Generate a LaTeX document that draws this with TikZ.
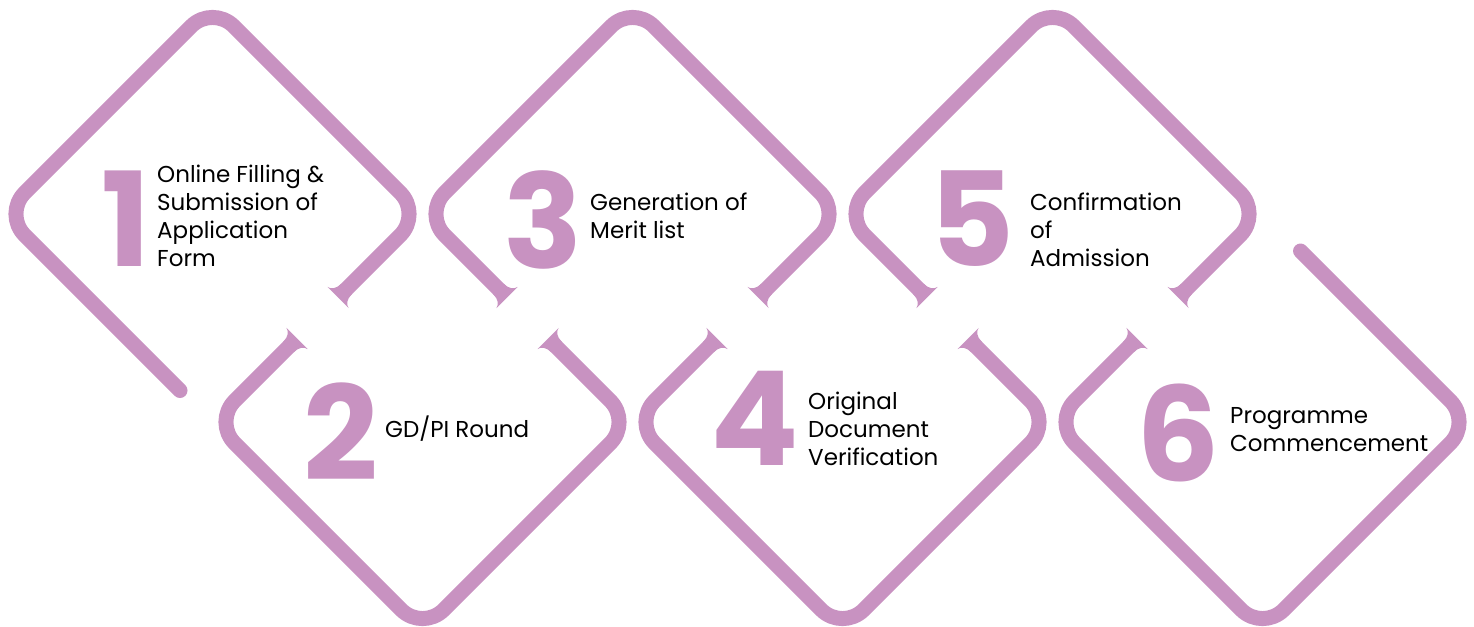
\documentclass[tikz,border=0pt]{standalone}
\usepackage{fontspec}
\setmainfont{Poppins}
\definecolor{ringc}{RGB}{200,146,193}
\tikzset{
  ring/.style={draw=ringc, line width=15pt, rounded corners=30pt, line cap=round, line join=round},
  num/.style={text=ringc, font=\fontsize{131}{131}\selectfont\bfseries, inner sep=0pt, anchor=base},
  lab/.style={text=black, font=\fontsize{23}{28}\selectfont, align=left, anchor=base west, inner sep=0pt}
}
\newcommand{\flareend}[2]{\fill[ringc, shift={#1}, rotate=#2] (-12,7.5) .. controls (-4,7.5) and (-1,11) .. (0,15) -- (0,-15) .. controls (-1,-11) and (-4,-7.5) .. (-12,-7.5) -- cycle;}
\begin{document}
\begin{tikzpicture}[x=1pt, y=-1pt]
\useasboundingbox (0,0) rectangle (1474,626);
% diamond 1
\draw[ring] (343.7,291.8) -- (421.5,214) -- (212.5,5) -- (3.5,214) -- (180,390.5);
\flareend{(338,297.5)}{225}
% diamond 2
\draw[ring] (291.3,344.2) -- (213.5,422) -- (422.5,631) -- (631.5,422) -- (553.7,344.2);
\flareend{(297,338.5)}{45}
\flareend{(548,338.5)}{135}
% diamond 3
\draw[ring] (763.7,291.8) -- (841.5,214) -- (632.5,5) -- (423.5,214) -- (501.3,291.8);
\flareend{(758,297.5)}{225}
\flareend{(507,297.5)}{-45}
% diamond 4
\draw[ring] (711.3,344.2) -- (633.5,422) -- (842.5,631) -- (1051.5,422) -- (973.7,344.2);
\flareend{(717,338.5)}{45}
\flareend{(968,338.5)}{135}
% diamond 5
\draw[ring] (1183.7,291.8) -- (1261.5,214) -- (1052.5,5) -- (843.5,214) -- (921.3,291.8);
\flareend{(1178,297.5)}{225}
\flareend{(927,297.5)}{-45}
% diamond 6
\draw[ring] (1131.3,344.2) -- (1053.5,422) -- (1262.5,631) -- (1471.5,422) -- (1300.5,251);
\flareend{(1137,338.5)}{45}
% numbers
\node[num] (n1) at (126,266) {1};
\node[num] (n2) at (341,480) {2};
\node[num] (n3) at (543,268) {3};
\node[num] (n4) at (755,465) {4};
\node[num] (n5) at (972,266) {5};
\node[num] (n6) at (1178,481) {6};
% labels (anchor at baseline of last line)
\node[lab] (l1) at (157,266) {Online Filling \&\\Submission of\\Application\\Form};
\node[lab] (l2) at (385,437) {GD/PI Round};
\node[lab] (l3) at (590,238) {Generation of\\Merit list};
\node[lab] (l4) at (808,465) {Original\\Document\\Verification};
\node[lab] (l5) at (1030,266) {Confirmation\\of\\Admission};
\node[lab] (l6) at (1230,451) {Programme\\Commencement};
\end{tikzpicture}
\end{document}
